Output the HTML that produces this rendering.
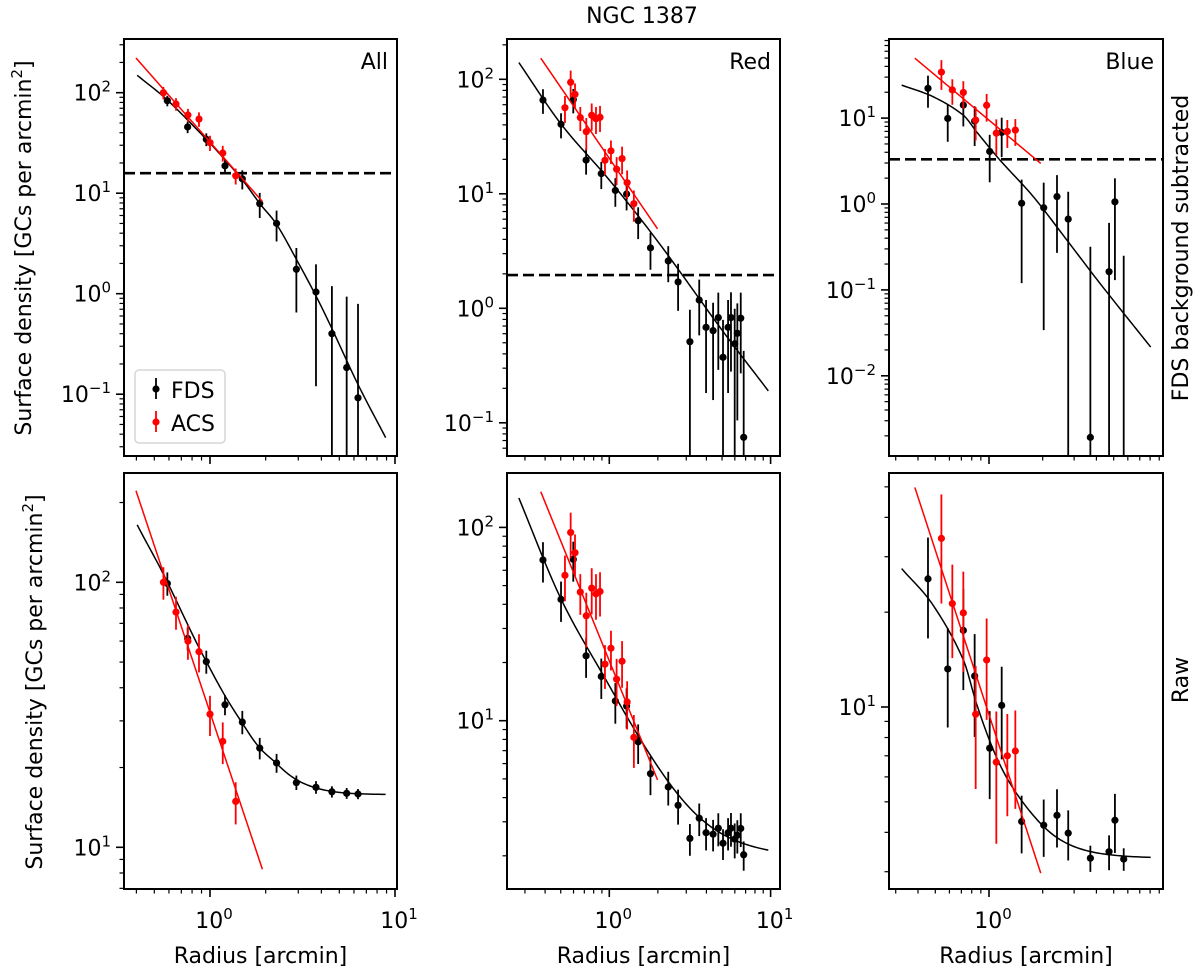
<!DOCTYPE html>
<html><head><meta charset="utf-8"><style>
html,body{margin:0;padding:0;background:#fff}
svg{display:block;font-family:"DejaVu Sans","Liberation Sans",sans-serif}
</style></head><body>
<svg id="fig" width="1200" height="975" viewBox="0 0 1200 975" xmlns="http://www.w3.org/2000/svg">
<text x="642" y="23" font-size="22" text-anchor="middle">NGC 1387</text>
</svg>
<script>
// ---------- DATA ----------
// All
const allFdsR = [0.588,0.757,0.955,1.205,1.495,1.857,2.29,2.93,3.74,4.56,5.48,6.31];
const allFdsSub = [83.2,45.6,34.4,18.7,13.9,7.87,5.01,1.75,1.04,0.40,0.184,0.092];
const allFdsErr = [10,6,5,3,3,2.2,1.7,1.1,0.92,0.79,0.75,0.7];
const allAcsR = [0.560,0.655,0.760,0.872,1.0,1.172,1.377];
const allAcsVal = [100,77.2,60,54.7,31.8,25.1,14.9];
const allAcsErr = [14,11,9,9,5.5,4.5,2.7];
const allCurveR = [0.404,0.588,0.955,1.2,1.5,1.857,2.29,2.93,3.74,4.56,6.31,8.9];
const allCurveY = [149,84.5,34.4,21.7,13.5,7.9,4.9,2.2,0.95,0.45,0.125,0.037];
// Red
const redFdsR = [0.388,0.502,0.598,0.718,0.892,1.09,1.28,1.51,1.80,2.32,2.67,3.16,3.61,3.98,4.40,4.74,5.07,5.45,5.68,5.99,6.22,6.53,6.81];
const redFdsSub = [65.9,40.5,66.4,19.7,15.0,10.7,9.96,5.82,3.37,2.59,1.70,0.511,1.18,0.682,0.638,0.83,0.373,0.682,0.83,0.49,0.605,0.82,0.0747];
const redFdsErr = [16,10,16,5,4,3,2.8,1.8,1.2,0.9,0.75,0.46,0.6,0.5,0.48,0.54,0.42,0.5,0.55,0.5,0.5,0.55,0.35];
const redAcsR = [0.531,0.576,0.613,0.661,0.720,0.778,0.827,0.876,0.940,1.024,1.11,1.20,1.29,1.42];
const redAcsVal = [56.5,94.2,74,46.3,34.9,48.5,45.3,46.6,19.6,23.7,16.4,20.3,12.5,8.2];
const redAcsErr = [15,25,18,11,11,13,12,12,5,5.5,4.5,5.5,3.5,2.5];
const redCurveR = [0.275,0.5,1,2,5,9.68];
const redCurveY = [140,41,13.2,3.83,0.645,0.19];
// Blue
const blueFdsR = [0.455,0.587,0.718,0.831,1.009,1.178,1.524,2.026,2.405,2.78,3.70,4.71,5.08,5.69];
const blueFdsSub = [22.2,9.9,14.2,9.23,4.09,6.81,1.02,0.904,1.22,0.667,0.00192,0.163,1.06,-0.02];
const blueFdsErr = [9,4.6,6.2,4.5,2.3,3.3,0.9,0.87,0.95,0.72,0.316,0.44,0.93,0.27];
const blueAcsR = [0.541,0.623,0.718,0.842,0.970,1.099,1.267,1.405];
const blueAcsVal = [34.3,21.3,19.9,9.49,14.1,6.68,7.0,7.25];
const blueAcsErr = [13,7,7,4,5,3,2.5,2.5];
const blueCurveR = [0.324,0.487,0.718,0.853,1.153,1.77,2.73,4.19,8.06];
const blueCurveY = [24.2,17.7,10.8,6.9,3.24,1.22,0.381,0.119,0.0216];
// backgrounds (dashed line level)
const backgrounds = [15.8,1.95,3.31];
// ACS power-law fits: value at r=1, slope, r range
const acsFitAmp = [32.3,20.4,9.46];
const acsFitSlope = [-2.09,-2.06,-1.735];
const acsFitRmin = [0.398,0.376,0.384];
const acsFitRmax = [1.92,1.99,1.95];
const panelLabels = ['All','Red','Blue'];

// ---------- LAYOUT ----------
const NS='http://www.w3.org/2000/svg';
const svg=document.getElementById('fig');
function mk(tag,attrs,parent){const e=document.createElementNS(NS,tag);for(const k in attrs)e.setAttribute(k,attrs[k]);(parent||svg).appendChild(e);return e;}
const cols=[{l:124,r:397,x0:210,dec:185},{l:507,r:780,x0:609.3,dec:161.3},{l:889,r:1163,x0:989,dec:178.4}];
const rows=[{t:39,b:456},{t:473,b:889}];
const yax=[[{y0:293.7,dec:100.5},{y0:308.3,dec:114.5},{y0:204,dec:85.9}],[{y0:1112.3,dec:265},{y0:914,dec:193.3},{y0:1022,dec:315}]];
const dataSets=[
 {fr:allFdsR,fs:allFdsSub,fe:allFdsErr,ar:allAcsR,av:allAcsVal,ae:allAcsErr,cr:allCurveR,cy:allCurveY},
 {fr:redFdsR,fs:redFdsSub,fe:redFdsErr,ar:redAcsR,av:redAcsVal,ae:redAcsErr,cr:redCurveR,cy:redCurveY},
 {fr:blueFdsR,fs:blueFdsSub,fe:blueFdsErr,ar:blueAcsR,av:blueAcsVal,ae:blueAcsErr,cr:blueCurveR,cy:blueCurveY}];

function interpLog(rs,ys,r){ // Catmull-Rom in log-log
  const lx=rs.map(Math.log10),ly=ys.map(Math.log10),x=Math.log10(r);
  let i=0;while(i<lx.length-2&&x>lx[i+1])i++;
  const p0=ly[Math.max(i-1,0)],p1=ly[i],p2=ly[i+1],p3=ly[Math.min(i+2,ly.length-1)];
  const t=(x-lx[i])/(lx[i+1]-lx[i]);
  const m1=(p2-p0)/((lx[i+1]-lx[Math.max(i-1,0)])||1)*(lx[i+1]-lx[i]);
  const m2=(p3-p1)/((lx[Math.min(i+2,lx.length-1)]-lx[i])||1)*(lx[i+1]-lx[i]);
  const t2=t*t,t3=t2*t;
  return Math.pow(10,(2*t3-3*t2+1)*p1+(t3-2*t2+t)*m1+(-2*t3+3*t2)*p2+(t3-t2)*m2);
}
function tickLabel(g,x,y,exp,anchor){
  const t=mk('text',{x:x,y:y,'font-size':22,'text-anchor':anchor},g);
  
  
  t.appendChild(document.createTextNode('10'));
  const s=mk('tspan',{'font-size':15,dy:-9},t);
  s.textContent=exp<0?'\u2212'+(-exp):String(exp);
}

for(let ri=0;ri<2;ri++){
 for(let ci=0;ci<3;ci++){
  const C=cols[ci],R=rows[ri],Y=yax[ri][ci],D=dataSets[ci];
  const X=v=>C.x0+Math.log10(v)*C.dec;
  const Yp=v=>Y.y0-Math.log10(v)*Y.dec;
  const g=mk('g',{});
  
  
  const cid='clip'+ri+ci;
  const cp=mk('clipPath',{id:cid},g);mk('rect',{x:C.l,y:R.t,width:C.r-C.l,height:R.b-R.t},cp);
  const pl=mk('g',{'clip-path':'url(#'+cid+')'},g);
  
  
  const bg=backgrounds[ci];
  // black fit curve
  let pts=[];const lr0=Math.log10(D.cr[0]),lr1=Math.log10(D.cr[D.cr.length-1]);
  for(let k=0;k<=120;k++){const r=Math.pow(10,lr0+(lr1-lr0)*k/120);let v=interpLog(D.cr,D.cy,r);if(ri==1)v+=bg;pts.push(X(r).toFixed(2)+','+Yp(v).toFixed(2));}
  const bc=mk('polyline',{points:pts.join(' '),fill:'none',stroke:'#000','stroke-width':1.5},pl);
  
  
  // dashed background line
  if(ri==0){const dl=mk('line',{x1:C.l,x2:C.r,y1:Yp(bg),y2:Yp(bg),stroke:'#000','stroke-width':2.6,'stroke-dasharray':'11 5'},pl);
   
   }
  // FDS points
  for(let i=0;i<D.fr.length;i++){
   const v=D.fs[i]+(ri==1?bg:0),e=D.fe[i];const x=X(D.fr[i]);
   const lo=v-e>0?Yp(v-e):R.b+5;const hi=Yp(v+e);
   const el=mk('line',{x1:x,x2:x,y1:lo,y2:hi,stroke:'#000','stroke-width':1.8},pl);
   
   
   if(v>0){const c=mk('circle',{cx:x,cy:Yp(v),r:3.6,fill:'#000'},pl);
    
    }
  }
  // ACS fit line
  const a1=acsFitRmin[ci],a2=acsFitRmax[ci];
  const f=r=>acsFitAmp[ci]*Math.pow(r,acsFitSlope[ci]);
  const rl=mk('line',{x1:X(a1),y1:Yp(f(a1)),x2:X(a2),y2:Yp(f(a2)),stroke:'#f00','stroke-width':1.5},pl);
  
  
  for(let i=0;i<D.ar.length;i++){
   const v=D.av[i],e=D.ae[i],x=X(D.ar[i]);
   const el=mk('line',{x1:x,x2:x,y1:Yp(Math.max(v-e,1e-6)),y2:Yp(v+e),stroke:'#f00','stroke-width':1.8},pl);
   
   
   const c=mk('circle',{cx:x,cy:Yp(v),r:3.6,fill:'#f00'},pl);
   
   
  }
  // frame
  const fr=mk('rect',{x:C.l,y:R.t,width:C.r-C.l,height:R.b-R.t,fill:'none',stroke:'#000','stroke-width':2},g);
  
  
  // y ticks
  const ylmin=(Y.y0-R.b)/Y.dec,ylmax=(Y.y0-R.t)/Y.dec;
  for(let d=Math.floor(ylmin);d<=Math.ceil(ylmax);d++){for(let k=1;k<10;k++){
   const l=d+Math.log10(k);if(l<ylmin-1e-6||l>ylmax+1e-6)continue;const y=Y.y0-l*Y.dec;
   const tk=mk('line',{x1:C.l,x2:C.l-(k==1?8:4.5),y1:y,y2:y,stroke:'#000','stroke-width':k==1?1.6:1.2},g);
   
   
   if(k==1)tickLabel(g,C.l-13,y+8,d,'end');
  }}
  // x ticks
  const xlmin=(C.l-C.x0)/C.dec,xlmax=(C.r-C.x0)/C.dec;
  for(let d=Math.floor(xlmin);d<=Math.ceil(xlmax);d++){for(let k=1;k<10;k++){
   const l=d+Math.log10(k);if(l<xlmin-1e-6||l>xlmax+0.02)continue;const x=C.x0+l*C.dec;
   const tk=mk('line',{x1:x,x2:x,y1:R.b,y2:R.b+(k==1?8:4.5),stroke:'#000','stroke-width':k==1?1.6:1.2},g);
   
   
   if(k==1&&ri==1)tickLabel(g,x+4,928,d,'middle');
  }}
  if(ri==0){const t=mk('text',{x:C.r-9,y:69,'font-size':22,'text-anchor':'end'},g);t.textContent=panelLabels[ci];
   
   }
  else{const t=mk('text',{x:(C.l+C.r)/2,y:963,'font-size':22,'text-anchor':'middle'},g);t.textContent='Radius [arcmin]';
   
   }
 }
}
// y-axis titles
function ylab(x,y,txt,name){const t=mk('text',{x:0,y:0,'font-size':22,'text-anchor':'middle',transform:'translate('+x+','+y+') rotate(-90)'});
 
 
 t.appendChild(document.createTextNode(txt));return t;}
function sup(t){const s=mk('tspan',{'font-size':15,dy:-9},t);s.textContent='2';const s2=mk('tspan',{dy:9},t);s2.textContent=']';}
sup(ylab(31,248,'Surface density [GCs per arcmin','y-axis-title-top'));
sup(ylab(42,682,'Surface density [GCs per arcmin','y-axis-title-bottom'));
ylab(1188,248,'FDS background subtracted','row-label-subtracted');
ylab(1188,680,'Raw','row-label-raw');
// legend
const lg=mk('g',{});


mk('rect',{x:135,y:370,width:90,height:73,rx:4,fill:'#fff','fill-opacity':0.85,stroke:'#d6d6d6','stroke-width':1.5},lg);
const legendNames=['FDS','ACS'],legendColors=['#000','#f00'],legendYs=[389,422];
for(let i=0;i<2;i++){
 const e=mk('g',{},lg);
 
 
 mk('line',{x1:156,x2:156,y1:legendYs[i]-11,y2:legendYs[i]+10,stroke:legendColors[i],'stroke-width':1.8},e);
 mk('circle',{cx:156,cy:legendYs[i],r:3.6,fill:legendColors[i]},e);
 const t=mk('text',{x:171,y:legendYs[i]+9,'font-size':22},e);t.textContent=legendNames[i];
}
</script>
</body></html>
